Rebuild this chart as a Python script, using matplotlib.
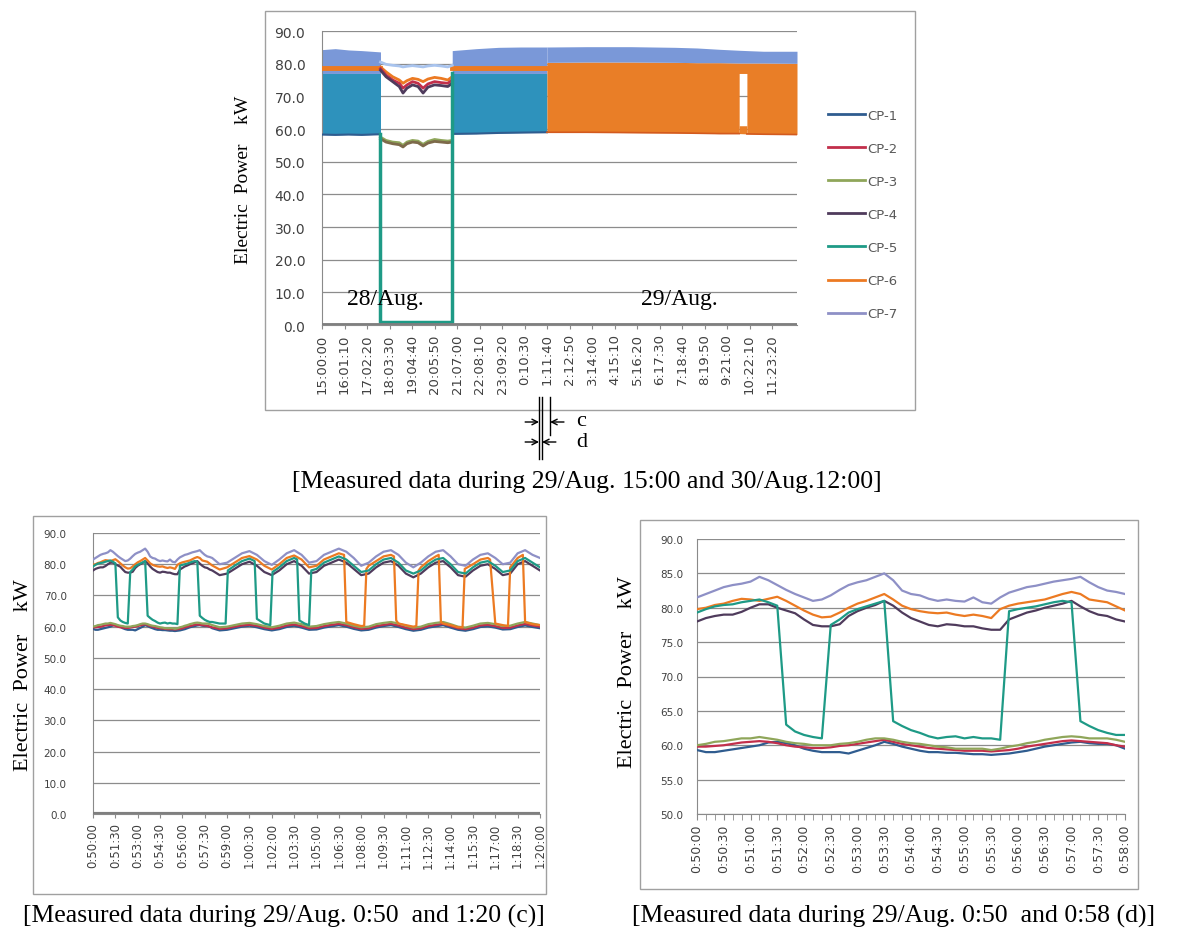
import numpy as np
import matplotlib
matplotlib.use("Agg")
import matplotlib.pyplot as plt
from matplotlib import transforms
from matplotlib.lines import Line2D
from matplotlib.patches import Rectangle
from matplotlib.ticker import FormatStrFormatter

plt.rcParams['font.family'] = ['DejaVu Sans']
SERIF = ['Liberation Serif', 'DejaVu Serif']

names = ['CP-1', 'CP-2', 'CP-3', 'CP-4', 'CP-5', 'CP-6', 'CP-7']
colors = ['#2f5c8f', '#c22f4b', '#8fa65a', '#4f3b5c', '#1e9a86', '#ec7a22', '#8e90c6']

# ---------------- 28/Aug 15:00 -> 29/Aug 12:30 (hours after 15:00) ----------------
top_labels = ['15:00:00', '16:01:10', '17:02:20', '18:03:30', '19:04:40', '20:05:50',
              '21:07:00', '22:08:10', '23:09:20', '0:10:30', '1:11:40', '2:12:50',
              '3:14:00', '4:15:10', '5:16:20', '6:17:30', '7:18:40', '8:19:50',
              '9:21:00', '10:22:10', '11:23:20']
top_end = 21.52

# envelopes of the 10 s records while CP-5 is cycling (before / after its stop)
cp5_a_t = [0.0, 0.6, 1.2, 1.8, 2.65]
cp5_a_low = [58.3, 58.2, 58.3, 58.2, 58.4]
cp5_a_top = [84.3, 84.6, 84.2, 84.0, 83.6]
cp5_b_t = [5.9, 7.0, 8.0, 9.0, 10.19]
cp5_b_low = [58.5, 58.6, 58.8, 58.9, 59.0]
cp5_b_top = [84.0, 84.6, 85.0, 85.1, 85.1]
cp5_on_kw = 77.0
cp6_on_kw = 78.8

# CP-6 cycling afterwards (short hold around 9:20)
cp6_c_t = [10.19, 12.0, 14.0, 16.0, 17.0, 18.0, 18.9, 18.9, 19.25, 19.25, 20.0, 21.52]
cp6_c_low = [59.0, 59.0, 58.9, 58.8, 58.7, 58.6, 58.6, 77.0, 77.0, 58.5, 58.4, 58.3]
cp6_c_high = [80.4, 80.5, 80.5, 80.4, 80.3, 80.3, 80.2, 80.2, 80.2, 80.2, 80.2, 80.1]
cp6_c_top = [85.1, 85.2, 85.2, 85.0, 84.8, 84.4, 84.1, 84.1, 84.0, 84.0, 83.8, 83.8]
hold_t = [18.9, 19.25]
hold_low = [58.6, 58.5]
hold_high = [61.0, 61.0]

# CP-5 stopped 17:39 - 20:54
stop_t = [2.65, 2.9, 3.2, 3.5, 3.67, 3.85, 4.1, 4.35, 4.58, 4.8, 5.1, 5.4, 5.7, 5.9]
stop_cp7 = [80.5, 79.8, 79.5, 79.3, 79.0, 79.2, 79.4, 79.2, 79.0, 79.3, 79.5, 79.3, 79.0, 79.5]
stop_cp6 = [79.0, 77.5, 76.0, 75.0, 74.0, 74.8, 75.5, 75.2, 74.5, 75.3, 75.8, 75.5, 75.0, 76.0]
stop_cp2 = [78.5, 76.5, 75.0, 74.0, 72.5, 73.5, 74.5, 74.0, 72.5, 73.8, 74.5, 74.2, 74.0, 75.0]
stop_cp4 = [78.0, 76.0, 74.5, 73.0, 71.0, 72.5, 73.5, 73.0, 71.0, 72.8, 73.5, 73.3, 73.0, 74.0]
stop_cp3 = [57.5, 56.5, 56.0, 55.8, 55.0, 56.0, 56.5, 56.3, 55.3, 56.2, 56.8, 56.5, 56.3, 56.5]
stop_cp1 = [57.0, 56.0, 55.5, 55.2, 54.5, 55.5, 56.0, 55.8, 54.8, 55.7, 56.2, 56.0, 55.8, 56.0]
stop_cp5_t = [2.65, 2.65, 5.9, 5.9]
stop_cp5 = [58.4, 0.8, 0.8, 77.0]

# ---------------- 29/Aug 0:50 -> 1:20 (minutes after 0:50) ----------------
c_labels = ['0:50:00', '0:51:30', '0:53:00', '0:54:30', '0:56:00', '0:57:30', '0:59:00',
            '1:00:30', '1:02:00', '1:03:30', '1:05:00', '1:06:30', '1:08:00', '1:09:30',
            '1:11:00', '1:12:30', '1:14:00', '1:15:30', '1:17:00', '1:18:30', '1:20:00']
d_labels = ['0:50:00', '0:50:30', '0:51:00', '0:51:30', '0:52:00', '0:52:30', '0:53:00',
            '0:53:30', '0:54:00', '0:54:30', '0:55:00', '0:55:30', '0:56:00', '0:56:30',
            '0:57:00', '0:57:30', '0:58:00']

t_fine = np.arange(0, 481, 10) / 60      # 10 s records 0:50:00 - 0:58:00
t_rest = np.arange(8.5, 30.01, 0.5)      # 30 s records 0:58:30 - 1:20:00

cp1_fine = [59.3, 59.0, 59.0, 59.2, 59.4, 59.6, 59.8, 60.0, 60.4, 60.5,
            60.3, 60.0, 59.5, 59.2, 59.0, 59.0, 59.0, 58.8, 59.2, 59.6,
            60.0, 60.5, 60.2, 59.8, 59.5, 59.2, 59.0, 59.0, 58.9, 58.9,
            58.8, 58.7, 58.7, 58.6, 58.7, 58.8, 59.0, 59.2, 59.5, 59.8,
            60.0, 60.2, 60.4, 60.5, 60.3, 60.2, 60.2, 60.0, 59.5]
cp1_rest = [58.8, 59.0, 59.5, 60.0, 60.3, 59.8, 59.2, 58.8, 59.2, 59.9,
            60.3, 59.7, 59.0, 59.1, 59.7, 60.1, 60.5, 60.0, 59.3, 58.8,
            59.0, 59.7, 60.2, 60.5, 59.9, 59.2, 58.7, 59.0, 59.7, 60.1,
            60.5, 59.7, 59.0, 58.7, 59.2, 59.9, 60.1, 59.7, 59.1, 59.2,
            59.9, 60.4, 59.9, 59.5]

cp2_fine = [59.8, 59.8, 59.9, 60.0, 60.2, 60.4, 60.5, 60.6, 60.5, 60.3,
            60.0, 59.8, 59.7, 59.6, 59.6, 59.7, 59.9, 60.0, 60.2, 60.4,
            60.6, 60.8, 60.5, 60.2, 60.0, 59.8, 59.6, 59.5, 59.4, 59.3,
            59.2, 59.2, 59.2, 59.1, 59.2, 59.3, 59.5, 59.8, 60.0, 60.2,
            60.4, 60.6, 60.7, 60.6, 60.5, 60.4, 60.3, 60.0, 59.8]
cp2_rest = [59.3, 59.5, 60.0, 60.4, 60.6, 60.3, 59.7, 59.3, 59.7, 60.4,
            60.7, 60.2, 59.5, 59.6, 60.2, 60.6, 60.9, 60.5, 59.8, 59.3,
            59.5, 60.2, 60.6, 60.9, 60.4, 59.7, 59.2, 59.5, 60.2, 60.6,
            60.9, 60.2, 59.5, 59.2, 59.7, 60.4, 60.6, 60.2, 59.6, 59.7,
            60.4, 60.9, 60.4, 60.0]

cp3_fine = [60.0, 60.2, 60.5, 60.6, 60.8, 61.0, 61.0, 61.2, 61.0, 60.8,
            60.5, 60.3, 60.2, 60.0, 60.0, 60.0, 60.2, 60.3, 60.5, 60.8,
            61.0, 61.0, 60.8, 60.5, 60.3, 60.2, 60.0, 59.8, 59.7, 59.5,
            59.5, 59.5, 59.5, 59.3, 59.5, 59.8, 60.0, 60.3, 60.5, 60.8,
            61.0, 61.2, 61.3, 61.2, 61.0, 61.0, 61.0, 60.8, 60.5]
cp3_rest = [59.8, 60.0, 60.5, 61.0, 61.2, 60.8, 60.2, 59.8, 60.3, 61.0,
            61.3, 60.8, 60.0, 60.2, 60.8, 61.2, 61.5, 61.0, 60.3, 59.8,
            60.0, 60.8, 61.2, 61.5, 61.0, 60.3, 59.7, 60.0, 60.8, 61.2,
            61.5, 60.8, 60.0, 59.7, 60.3, 61.0, 61.2, 60.8, 60.2, 60.3,
            61.0, 61.5, 61.0, 60.5]

cp4_fine = [78.0, 78.5, 78.8, 79.0, 79.0, 79.4, 80.0, 80.5, 80.5, 80.0,
            79.6, 79.2, 78.3, 77.5, 77.3, 77.3, 77.6, 78.8, 79.5, 80.0,
            80.4, 81.0, 80.3, 79.3, 78.5, 78.0, 77.5, 77.3, 77.6, 77.5,
            77.3, 77.3, 77.0, 76.8, 76.8, 78.3, 78.8, 79.3, 79.6, 80.0,
            80.3, 80.6, 81.0, 80.2, 79.5, 79.0, 78.8, 78.3, 78.0]
cp4_rest = [76.5, 77.0, 78.5, 80.0, 80.8, 79.5, 77.5, 76.5, 78.0, 80.0,
            81.0, 79.5, 77.0, 77.5, 79.5, 80.5, 81.5, 80.5, 78.5, 76.5,
            77.0, 79.0, 80.5, 81.0, 79.5, 77.0, 75.8, 77.0, 79.0, 80.5,
            81.0, 79.0, 76.5, 76.0, 78.0, 79.5, 80.0, 78.5, 76.5, 77.0,
            80.0, 81.0, 79.5, 78.0]

cp5_fine = [79.3, 79.8, 80.2, 80.4, 80.5, 80.8, 81.0, 81.2, 80.8, 80.3,
            63.0, 62.0, 61.5, 61.2, 61.0, 77.5, 78.3, 79.3, 79.8, 80.2,
            80.6, 81.0, 63.5, 62.8, 62.2, 61.8, 61.3, 61.0, 61.2, 61.3,
            61.0, 61.2, 61.0, 61.0, 60.8, 79.5, 79.8, 80.0, 80.2, 80.5,
            80.8, 81.0, 80.8, 63.5, 62.8, 62.2, 61.8, 61.5, 61.5]
cp5_rest_t = [8.5, 8.9, 9.05, 9.5, 10.0, 10.5, 10.85, 11.0, 11.5, 11.9,
              12.05, 12.5, 13.0, 13.5, 13.7, 13.85, 14.2, 14.5, 14.65, 15.0,
              15.5, 16.0, 16.5, 17.0, 17.5, 18.0, 18.5, 19.0, 19.5, 20.0,
              20.5, 21.0, 21.5, 22.0, 22.5, 23.0, 23.5, 24.0, 24.5, 25.0,
              25.5, 26.0, 26.5, 27.0, 27.5, 28.0, 28.5, 29.0, 29.5, 30.0]
cp5_rest = [61.0, 61.0, 78.0, 79.5, 81.0, 81.8, 81.0, 62.5, 61.0, 60.5,
            77.5, 79.0, 81.0, 82.0, 81.5, 62.0, 61.0, 60.5, 78.0, 78.5,
            80.5, 81.5, 82.5, 81.5, 79.5, 77.5, 78.0, 80.0, 81.5, 82.0,
            80.5, 78.0, 77.0, 78.0, 80.0, 81.5, 82.0, 80.0, 77.5, 77.0,
            79.0, 80.5, 81.0, 79.5, 77.5, 78.0, 81.0, 82.0, 80.5, 79.0]

cp6_fine = [79.8, 80.0, 80.4, 80.6, 81.0, 81.3, 81.2, 81.0, 81.3, 81.6,
            81.0, 80.3, 79.6, 79.0, 78.6, 78.7, 79.3, 80.0, 80.6, 81.0,
            81.5, 82.0, 81.2, 80.3, 79.8, 79.5, 79.3, 79.2, 79.3, 79.0,
            78.8, 79.0, 78.8, 78.5, 79.8, 80.3, 80.6, 80.8, 81.0, 81.2,
            81.6, 82.0, 82.3, 82.0, 81.2, 81.0, 80.8, 80.2, 79.6]
cp6_rest_t = [8.5, 9.0, 9.5, 10.0, 10.5, 11.0, 11.5, 12.0, 12.5, 13.0,
              13.5, 14.0, 14.5, 15.0, 15.5, 16.0, 16.5, 16.85, 17.0, 17.5,
              18.0, 18.2, 18.35, 18.5, 19.0, 19.5, 20.0, 20.2, 20.35, 20.5,
              21.0, 21.5, 21.7, 21.85, 22.0, 22.5, 23.0, 23.2, 23.35, 23.5,
              24.0, 24.5, 24.8, 24.95, 25.5, 26.0, 26.5, 26.65, 27.0, 27.5,
              27.85, 28.0, 28.5, 28.85, 29.0, 29.5, 30.0]
cp6_rest = [78.3, 79.0, 80.5, 82.0, 82.6, 81.5, 79.5, 78.3, 80.0, 82.0,
            82.8, 81.5, 79.0, 79.5, 81.5, 82.5, 83.5, 83.0, 61.5, 60.8,
            60.2, 60.3, 78.5, 79.5, 81.0, 82.5, 83.0, 82.5, 62.0, 61.0,
            60.5, 60.0, 60.2, 78.0, 79.0, 81.0, 82.5, 83.0, 61.5, 61.0,
            60.5, 59.8, 59.8, 78.5, 80.0, 81.5, 82.0, 81.5, 61.0, 60.5,
            60.2, 79.0, 82.0, 83.0, 61.5, 60.8, 60.5]

cp7_fine = [81.5, 82.0, 82.5, 83.0, 83.3, 83.5, 83.8, 84.5, 84.0, 83.3,
            82.6, 82.0, 81.5, 81.0, 81.2, 81.8, 82.6, 83.3, 83.7, 84.0,
            84.5, 85.0, 84.0, 82.5, 82.0, 81.8, 81.3, 81.0, 81.2, 81.0,
            80.9, 81.5, 80.8, 80.6, 81.5, 82.2, 82.6, 83.0, 83.2, 83.5,
            83.8, 84.0, 84.2, 84.5, 83.7, 83.0, 82.5, 82.3, 82.0]
cp7_rest = [80.0, 80.5, 82.0, 83.5, 84.2, 83.0, 81.0, 79.8, 81.5, 83.5,
            84.5, 83.0, 80.5, 81.0, 83.0, 84.0, 85.0, 84.0, 82.0, 79.5,
            80.5, 82.5, 84.0, 84.5, 83.0, 80.5, 79.0, 80.5, 82.5, 84.0,
            84.5, 82.5, 80.0, 79.5, 81.5, 83.0, 83.5, 82.0, 80.0, 80.5,
            83.5, 84.5, 83.0, 82.0]


def clock(label, start_hour):
    h, m, s = (int(v) for v in label.split(':'))
    return (h - start_hour) % 24 + m / 60 + s / 3600


W, H = 1179, 937
fig = plt.figure(figsize=(W / 100, H / 100), dpi=100)


def box(left, top, right, bottom):
    return [left / W, 1 - bottom / H, (right - left) / W, (bottom - top) / H]


def fy(py):
    return 1 - py / H


def style(ax, ymin, ymax, ystep, ticks, labels, xsize, ysize, ypad):
    ax.set_ylim(ymin, ymax)
    ax.set_yticks(np.arange(ymin, ymax + 0.01, ystep))
    ax.yaxis.set_major_formatter(FormatStrFormatter('%.1f'))
    ax.grid(axis='y', color='#8c8c8c', lw=0.9)
    ax.set_axisbelow(True)
    ax.spines['top'].set_visible(False)
    ax.spines['right'].set_visible(False)
    ax.spines['left'].set_color('#8a8a8a')
    ax.spines['bottom'].set_color('#8a8a8a')
    ax.set_xticks(ticks)
    ax.set_xticklabels(labels)
    ax.tick_params(axis='y', length=0, labelsize=ysize, labelcolor='#404040', pad=ypad)
    ax.tick_params(axis='x', length=3, color='#8a8a8a', labelsize=xsize,
                   labelcolor='#404040', labelrotation=90, pad=3)


# ---------------- overview chart ----------------
ax = fig.add_axes(box(322, 32, 797, 326))
style(ax, 0, 90, 10, [clock(l, 15) for l in top_labels], top_labels, 9.5, 10, 12)
ax.set_xlim(0, top_end)

band_up = '#7a98d8'
band_cp5 = '#2e92bc'
band_cp6 = '#e97e27'
for t, low, top in [(cp5_a_t, cp5_a_low, cp5_a_top), (cp5_b_t, cp5_b_low, cp5_b_top)]:
    ax.fill_between(t, low, cp5_on_kw, color=band_cp5, lw=0, zorder=2)
    ax.fill_between(t, cp5_on_kw, top, color=band_up, lw=0, zorder=2)
    ax.plot(t, [cp6_on_kw] * len(t), color=colors[5], lw=3.5, zorder=3)
    ax.plot(t, low, color=colors[0], lw=1.5, zorder=3)
ax.fill_between(cp6_c_t, cp6_c_low, cp6_c_high, color=band_cp6, lw=0, zorder=2)
ax.fill_between(cp6_c_t, cp6_c_high, cp6_c_top, color=band_up, lw=0, zorder=2)
ax.fill_between(hold_t, hold_low, hold_high, color=band_cp6, lw=0, zorder=2)
ax.plot(cp6_c_t[:7], cp6_c_low[:7], color='#d35a1e', lw=1.2, zorder=3)
ax.plot(cp6_c_t[9:], cp6_c_low[9:], color='#d35a1e', lw=1.2, zorder=3)

for kw, c in [(stop_cp7, '#a9c4ee'), (stop_cp6, colors[5]), (stop_cp2, colors[1]),
              (stop_cp4, colors[3]), (stop_cp3, colors[2]), (stop_cp1, '#7d6a4a')]:
    ax.plot(stop_t, kw, color=c, lw=2, zorder=3)
ax.plot(stop_cp5_t, stop_cp5, color=colors[4], lw=2.5, zorder=4)
ax.axhline(0, color='#7f7f7f', lw=3.5, zorder=5)

ax.text(2.85, 8, '28/Aug.', family=SERIF, fontsize=17, ha='center', va='center', zorder=6)
ax.text(16.2, 8, '29/Aug.', family=SERIF, fontsize=17, ha='center', va='center', zorder=6)

handles = [Line2D([], [], color=c, lw=2) for c in colors]
fig.legend(handles, names, loc='upper left', bbox_to_anchor=(816 / W, fy(98)),
           frameon=False, fontsize=9.5, handlelength=2.8, handletextpad=0.15,
           labelspacing=1.52, labelcolor='#595959')

# interval markers for (c) and (d) under the time axis
mark = transforms.blended_transform_factory(ax.transData, fig.transFigure)
x50 = clock('0:50:00', 15)
x58 = clock('0:58:00', 15)
x120 = clock('1:20:00', 15)
for x, y0, y1 in [(x50, 398, 460), (x58, 398, 460), (x120, 398, 436)]:
    fig.add_artist(Line2D([x, x], [fy(y0), fy(y1)], transform=mark, color='k', lw=1))
arrow = dict(arrowstyle='->', lw=1, color='k', mutation_scale=10, shrinkA=0, shrinkB=0)
for x, y, dx in [(x50, 423, -10), (x120, 423, 10), (x50, 443, -10), (x58, 443, 10)]:
    ax.annotate('', xy=(x, fy(y)), xycoords=mark, xytext=(dx, 0),
                textcoords='offset points', arrowprops=arrow, annotation_clip=False)
ax.annotate('c', xy=(x120, fy(421)), xycoords=mark, xytext=(19, 0), textcoords='offset points',
            family=SERIF, fontsize=16, va='center', annotation_clip=False)
ax.annotate('d', xy=(x58, fy(443)), xycoords=mark, xytext=(25, 0), textcoords='offset points',
            family=SERIF, fontsize=16, va='center', annotation_clip=False)

# ---------------- detail charts ----------------
t_cp5 = np.concatenate([t_fine, cp5_rest_t])
t_cp6 = np.concatenate([t_fine, cp6_rest_t])
t_all = np.concatenate([t_fine, t_rest])
series = [(t_all, cp1_fine + cp1_rest, 0), (t_all, cp2_fine + cp2_rest, 1),
          (t_all, cp3_fine + cp3_rest, 2), (t_all, cp4_fine + cp4_rest, 3),
          (t_all, cp7_fine + cp7_rest, 6), (t_cp6, cp6_fine + cp6_rest, 5),
          (t_cp5, cp5_fine + cp5_rest, 4)]

ax_c = fig.add_axes(box(93, 534, 540, 815))
style(ax_c, 0, 90, 10, [clock(l, 0) * 60 - 50 for l in c_labels], c_labels, 8.5, 7.5, 19)
ax_c.set_xlim(0, 30)
for t, kw, i in series:
    ax_c.plot(t, kw, color=colors[i], lw=1.6, zorder=3)
ax_c.axhline(0, color='#7f7f7f', lw=3, zorder=5)

ax_d = fig.add_axes(box(697, 540, 1125, 815))
style(ax_d, 50, 90, 5, [clock(l, 0) * 60 - 50 for l in d_labels], d_labels, 9, 7.5, 10)
ax_d.set_xlim(0, 8)
ax_d.set_xticks(np.arange(0, 8.01, 1 / 6), minor=True)
ax_d.tick_params(axis='x', which='both', length=4, color='#8a8a8a')
for t, kw, i in series:
    ax_d.plot(t, kw, color=colors[i], lw=1.6, zorder=3)

# ---------------- frames, axis titles, captions ----------------
over = fig.add_axes([0, 0, 1, 1], zorder=-1)
over.set_xlim(0, W)
over.set_ylim(H, 0)
over.axis('off')
for l, t, r, b in [(265, 12, 915, 411), (33, 517, 546, 895), (640, 521, 1138, 890)]:
    over.add_patch(Rectangle((l, t), r - l, b - t, fill=False, ec='#a0a0a0', lw=1))

ylab = 'Electric  Power    kW'
fig.text(243 / W, fy(180), ylab, family=SERIF, fontsize=14, rotation=90, ha='center', va='center')
fig.text(24 / W, fy(675), ylab, family=SERIF, fontsize=16, rotation=90, ha='center', va='center')
fig.text(627 / W, fy(672), ylab, family=SERIF, fontsize=16, rotation=90, ha='center', va='center')

fig.text(587 / W, fy(482), '[Measured data during 29/Aug. 15:00 and 30/Aug.12:00]',
         family=SERIF, fontsize=18.5, ha='center', va='center')
fig.text(284 / W, fy(916), '[Measured data during 29/Aug. 0:50  and 1:20 (c)]',
         family=SERIF, fontsize=18.5, ha='center', va='center')
fig.text(893 / W, fy(916), '[Measured data during 29/Aug. 0:50  and 0:58 (d)]',
         family=SERIF, fontsize=18.5, ha='center', va='center')

fig.savefig('out.png', dpi=100)
